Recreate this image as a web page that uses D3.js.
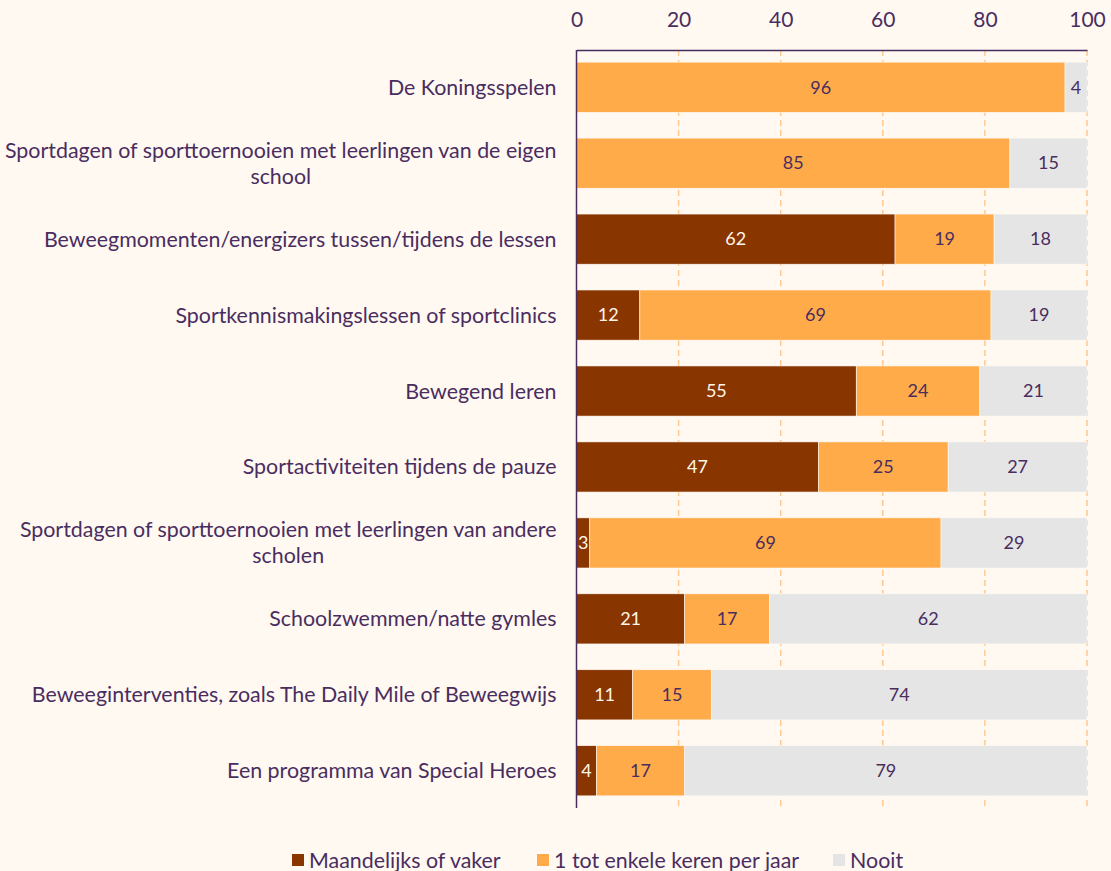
<!DOCTYPE html>
<html>
<head>
<meta charset="utf-8">
<script src="https://cdn.jsdelivr.net/npm/d3@7"></script>
<style>
  body { margin: 0; background: #fff9f2; }
  text { font-family: Lato, "Open Sans", sans-serif; fill: #4a2d5f; }
</style>
</head>
<body>
<div id="chart"></div>
<script>
var categories = [
  "De Koningsspelen",
  "Sportdagen of sporttoernooien met leerlingen van de eigen school",
  "Beweegmomenten/energizers tussen/tijdens de lessen",
  "Sportkennismakingslessen of sportclinics",
  "Bewegend leren",
  "Sportactiviteiten tijdens de pauze",
  "Sportdagen of sporttoernooien met leerlingen van andere scholen",
  "Schoolzwemmen/natte gymles",
  "Beweeginterventies, zoals The Daily Mile of Beweegwijs",
  "Een programma van Special Heroes"
];
var seriesNames = ["Maandelijks of vaker", "1 tot enkele keren per jaar", "Nooit"];
var maandelijks = [0, 0, 62.4, 12.4, 54.8, 47.4, 2.6, 21.2, 11.0, 3.9];
var jaarlijks   = [95.7, 84.9, 19.4, 68.8, 24.2, 25.4, 68.8, 16.6, 15.4, 17.3];
var nooit       = [4.3, 15.1, 18.2, 18.8, 21.0, 27.2, 28.6, 62.2, 73.6, 78.8];
var ticks = [0, 20, 40, 60, 80, 100];

var colours = ["#883500", "#ffab4a", "#e5e5e5"];
var labelColours = ["#fff5e8", "#4a2d5f", "#4a2d5f"];

var width = 1111, height = 871;
var margin = {left: 576.5, top: 50, right: 24, bottom: 63};
var w = width - margin.left - margin.right,
    h = height - margin.top - margin.bottom;

var svg = d3.select("#chart").append("svg")
    .attr("width", width)
    .attr("height", height);

svg.append("rect").attr("width", width).attr("height", height).attr("fill", "#fff9f2");

var x = d3.scaleLinear().domain([0, 100]).range([0, w]);
var y = d3.scaleBand().domain(categories).range([0, h]).paddingInner(0.34).paddingOuter(0.16);

var g = svg.append("g").attr("transform", "translate(" + margin.left + "," + margin.top + ")");

// grid
g.selectAll(".grid")
    .data(ticks.filter(function(d) { return d > 0; }))
  .enter().append("line")
    .attr("x1", function(d) { return x(d); })
    .attr("x2", function(d) { return x(d); })
    .attr("y1", 0).attr("y2", h)
    .attr("stroke", "#ffc98f")
    .attr("stroke-width", 1.5)
    .attr("stroke-dasharray", "6,4");

// stacked data
var rows = categories.map(function(c, i) {
  return {cat: c, vals: [maandelijks[i], jaarlijks[i], nooit[i]]};
});

var segs = [];
rows.forEach(function(r) {
  var x0 = 0;
  r.vals.forEach(function(v, k) {
    segs.push({cat: r.cat, k: k, x0: x0, x1: x0 + v, v: v});
    x0 += v;
  });
});

g.selectAll(".bar")
    .data(segs.filter(function(d) { return d.v > 0; }))
  .enter().append("rect")
    .attr("x", function(d) { return x(d.x0); })
    .attr("y", function(d) { return y(d.cat); })
    .attr("width", function(d) { return x(d.x1) - x(d.x0); })
    .attr("height", y.bandwidth())
    .attr("fill", function(d) { return colours[d.k]; })
    .attr("stroke", "#fff9f2")
    .attr("stroke-width", 0.6);

g.selectAll(".val")
    .data(segs.filter(function(d) { return d.v > 0; }))
  .enter().append("text")
    .attr("x", function(d) { return x((d.x0 + d.x1) / 2); })
    .attr("y", function(d) { return y(d.cat) + y.bandwidth() / 2; })
    .attr("dy", "0.35em")
    .attr("text-anchor", "middle")
    .style("font-size", "18px")
    .style("fill", function(d) { return labelColours[d.k]; })
    .text(function(d) { return Math.round(d.v); });

// top axis
var xAxis = g.append("g").call(d3.axisTop(x).tickValues(ticks).tickSize(0).tickPadding(23));
xAxis.select(".domain").attr("stroke", "#4a2d5f").attr("stroke-width", 1.5);
xAxis.selectAll("text").style("font-size", "21px").attr("font-family", null);

// left axis line
g.append("line")
    .attr("x1", 0).attr("x2", 0)
    .attr("y1", 0).attr("y2", h)
    .attr("stroke", "#4a2d5f").attr("stroke-width", 1.5);

// category labels with wrapping
var maxW = 552;
g.selectAll(".cat")
    .data(categories)
  .enter().append("text")
    .attr("text-anchor", "middle")
    .style("font-size", "21.4px")
    .each(function(d) {
      var el = d3.select(this);
      var words = d.split(" "), lines = [], line = [];
      var tmp = el.append("tspan");
      words.forEach(function(wd) {
        line.push(wd);
        tmp.text(line.join(" "));
        if (tmp.node().getComputedTextLength() > maxW && line.length > 1) {
          line.pop();
          lines.push(line.join(" "));
          line = [wd];
        }
      });
      lines.push(line.join(" "));
      tmp.remove();
      var cy = y(d) + y.bandwidth() / 2;
      var lh = 26;
      var widths = lines.map(function(l) {
        var t = el.append("tspan").text(l);
        var wl = t.node().getComputedTextLength();
        t.remove();
        return wl;
      });
      var bw = d3.max(widths);
      var cx = -20 - bw / 2;
      lines.forEach(function(l, i) {
        el.append("tspan")
          .attr("x", cx)
          .attr("y", cy + (i - (lines.length - 1) / 2) * lh)
          .attr("dy", "0.35em")
          .text(l);
      });
    });

// legend
var legendX = [292, 537, 833];
var legend = svg.append("g").attr("transform", "translate(0,860)");
seriesNames.forEach(function(s, i) {
  legend.append("rect")
    .attr("x", legendX[i]).attr("y", -6)
    .attr("width", 12).attr("height", 12)
    .attr("fill", colours[i]);
  legend.append("text")
    .attr("x", legendX[i] + 17).attr("y", 0)
    .attr("dy", "0.35em")
    .style("font-size", "21.4px")
    .text(s);
});
</script>
</body>
</html>
